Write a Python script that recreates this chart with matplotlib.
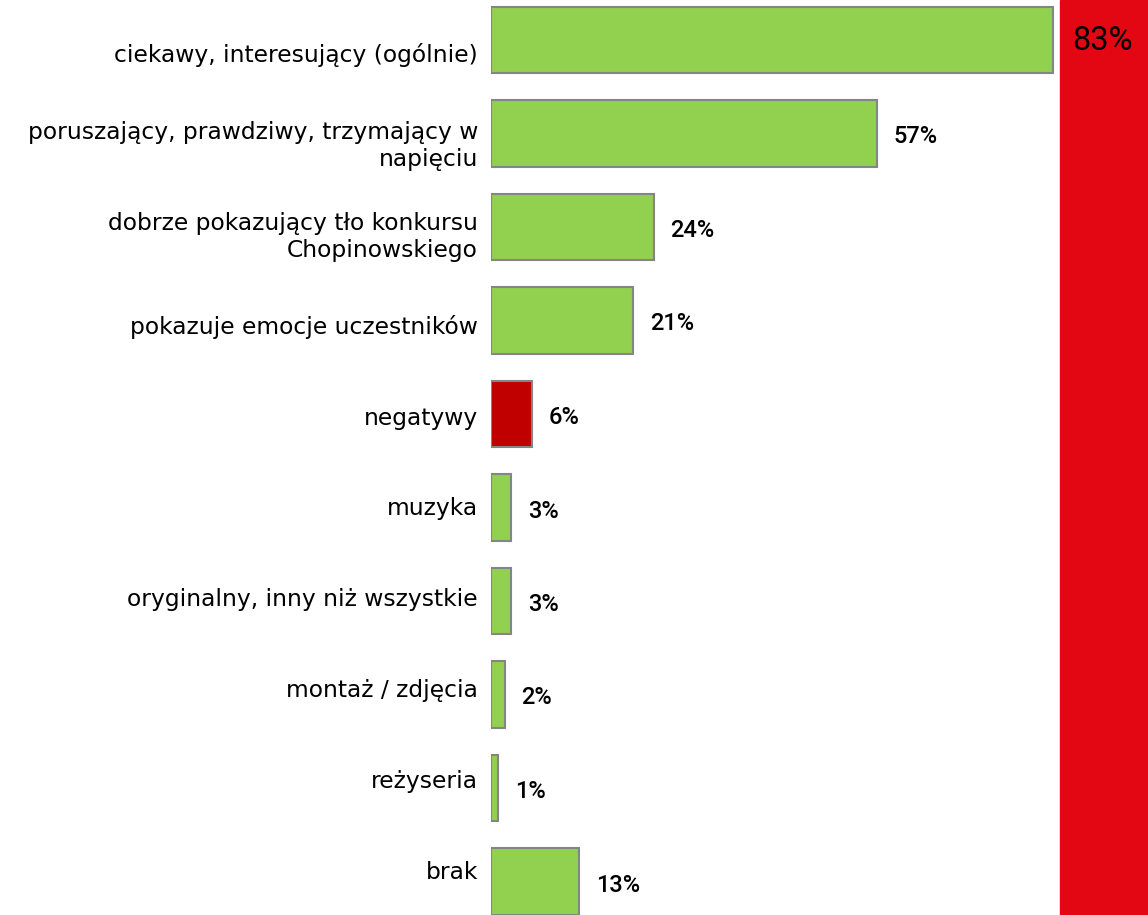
import matplotlib
matplotlib.use("Agg")
import matplotlib.pyplot as plt

categories = [
    "ciekawy, interesujący (ogólnie)",
    "poruszający, prawdziwy, trzymający w\nnapięciu",
    "dobrze pokazujący tło konkursu\nChopinowskiego",
    "pokazuje emocje uczestników",
    "negatywy",
    "muzyka",
    "oryginalny, inny niż wszystkie",
    "montaż / zdjęcia",
    "reżyseria",
    "brak",
]
values = [83, 57, 24, 21, 6, 3, 3, 2, 1, 13]
labels = ["83%", "57%", "24%", "21%", "6%", "3%", "3%", "2%", "1%", "13%"]
colors = ["#92D050"] * 4 + ["#C00000"] + ["#92D050"] * 5

plt.rcParams["font.family"] = ["Roboto", "DejaVu Sans"]

W, H = 1148, 915
fig = plt.figure(figsize=(W / 100, H / 100), dpi=100)
# pixel layout: bars start at x=491, 83% ends at ~1053
x0 = 491
px_per_pct = (1053 - x0) / 83
ax = fig.add_axes([x0 / W, 0, 1 - x0 / W, 1])

spacing = 93.5  # px between bar centres
ypos = list(range(len(categories)))
ax.barh(ypos, values, height=0.71, color=colors, edgecolor="#858585", linewidth=1.5)

# red band on the right
band_start = (1060 - x0) / px_per_pct
xmax = (W - x0) / px_per_pct
ax.axvspan(band_start, xmax, color="#E30613", zorder=0)

ax.set_xlim(0, xmax)
ax.set_ylim((H - 40) / spacing, -40 / spacing)

for i, (v, lab) in enumerate(zip(values, labels)):
    if i == 0:
        ax.text((1102 - x0) / px_per_pct, i + 1 / spacing, lab, ha="center", va="center",
                fontsize=23.5, color="black")
    else:
        ax.text(v + 17 / px_per_pct, i + 3.5 / spacing, lab, ha="left", va="center",
                fontsize=17, fontweight="medium", color="black")

# category labels sit on a slightly tighter grid than the bars
for i, cat in enumerate(categories):
    ypx = 55 + i * 90.8
    ax.text(-13 / px_per_pct, (ypx - 40) / spacing, cat, ha="right", va="center",
            fontsize=16.8, family=["DejaVu Sans"], linespacing=1.22, clip_on=False)

ax.set_xticks([])
ax.set_yticks([])
for s in ax.spines.values():
    s.set_visible(False)

fig.savefig("out.png", dpi=100)
